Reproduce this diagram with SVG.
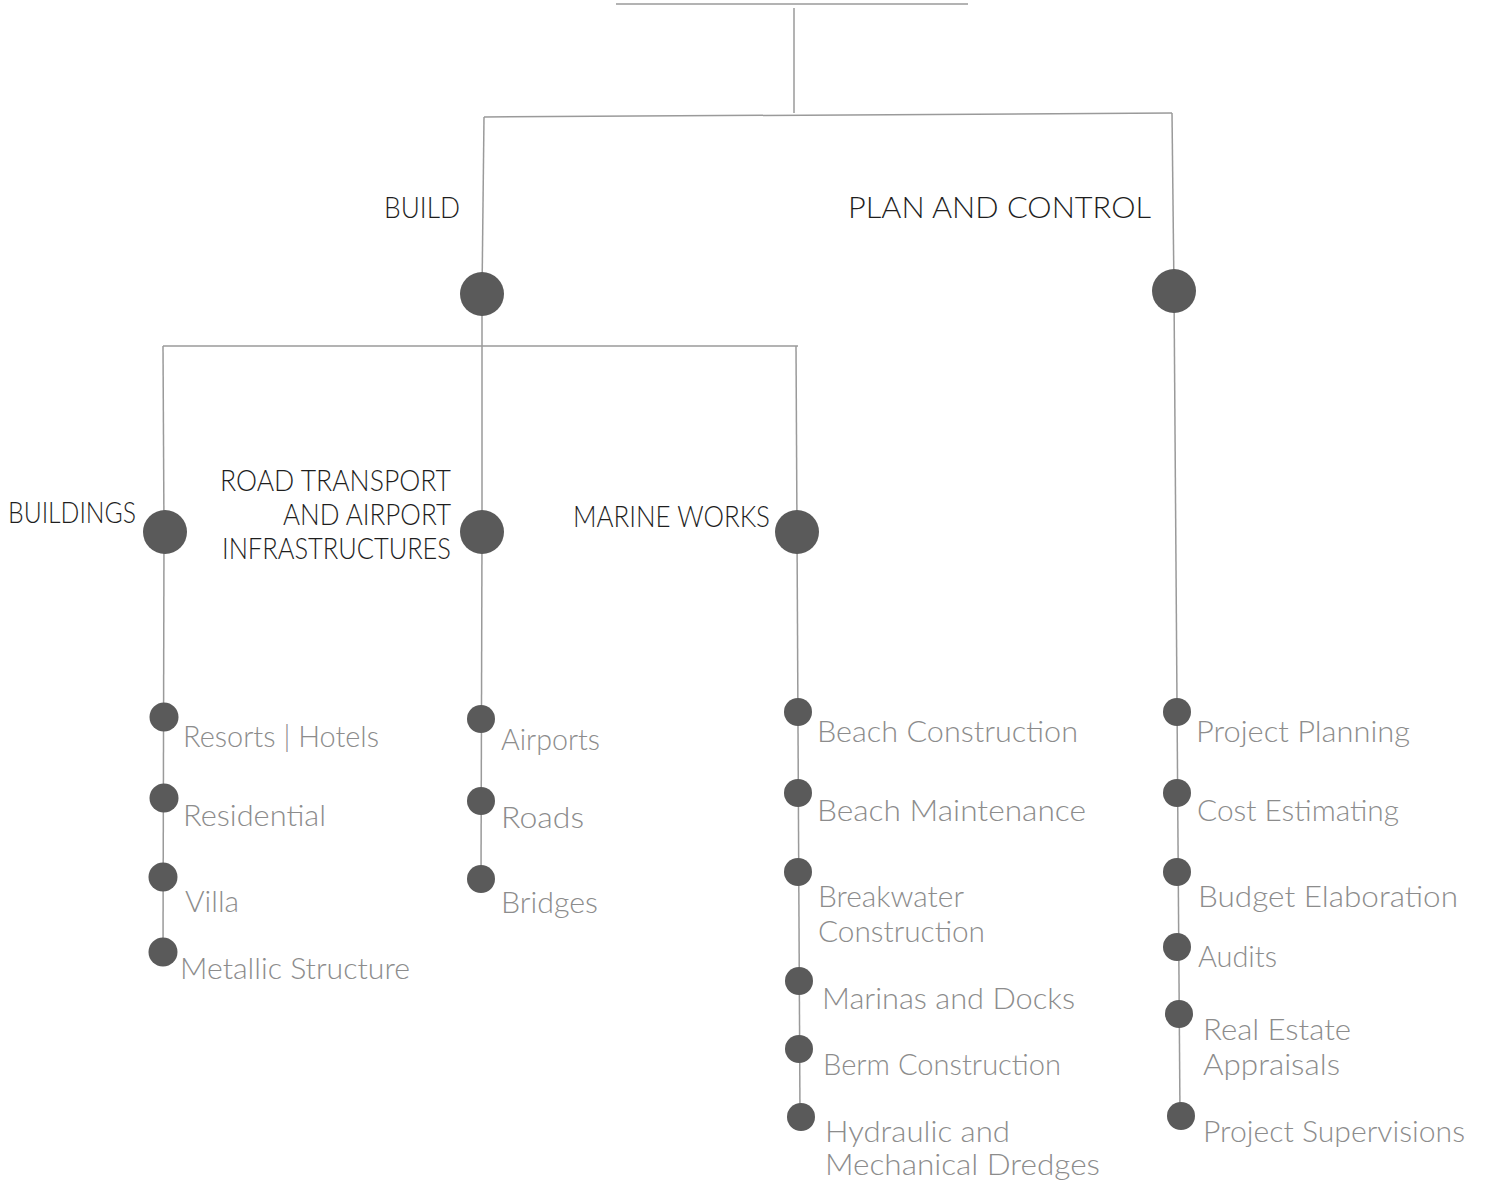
<svg xmlns="http://www.w3.org/2000/svg" width="1487" height="1183" viewBox="0 0 1487 1183">
<style>
.ln{stroke:#9a9a9a;stroke-width:1.5;fill:none}
.big{fill:#5a5a5a}
.dot{fill:#5a5a5a}
.hd{font-family:Lato,"Liberation Sans",sans-serif;font-weight:300;font-size:30px;fill:#1e1e1e}
.lf{font-family:Lato,"Liberation Sans",sans-serif;font-weight:300;font-size:29px;fill:#8c8c8c}
</style>
<rect width="1487" height="1183" fill="#ffffff"/>
<g id="connectors">
<line class="ln" x1="616" y1="4" x2="968" y2="4"/>
<line class="ln" x1="794" y1="8" x2="794" y2="113"/>
<line class="ln" x1="484" y1="117" x2="1172" y2="113"/>
<line class="ln" x1="484" y1="117" x2="482" y2="294"/>
<line class="ln" x1="1172" y1="113" x2="1174" y2="291"/>
<line class="ln" x1="163" y1="346" x2="798" y2="346"/>
<line class="ln" x1="482" y1="294" x2="482" y2="532"/>
<line class="ln" x1="163" y1="346" x2="164" y2="532"/>
<line class="ln" x1="796" y1="346" x2="797" y2="532"/>
<line class="ln" x1="164" y1="532" x2="163" y2="952"/>
<line class="ln" x1="482" y1="532" x2="481" y2="879"/>
<line class="ln" x1="797" y1="532" x2="800" y2="1117"/>
<line class="ln" x1="1174" y1="291" x2="1180" y2="1116"/>
</g>
<g id="n-build"><circle class="big" cx="482" cy="294" r="22"/><text class="hd" x="384" y="218" textLength="76" lengthAdjust="spacingAndGlyphs">BUILD</text></g>
<g id="n-plan"><circle class="big" cx="1174" cy="291" r="22"/><text class="hd" x="848" y="218" textLength="303" lengthAdjust="spacingAndGlyphs">PLAN AND CONTROL</text></g>
<g id="n-buildings"><circle class="big" cx="165" cy="532" r="22"/><text class="hd" x="8" y="523" textLength="128" lengthAdjust="spacingAndGlyphs">BUILDINGS</text></g>
<g id="n-road"><circle class="big" cx="482" cy="532" r="22"/>
<text class="hd" x="220" y="491" textLength="231" lengthAdjust="spacingAndGlyphs">ROAD TRANSPORT</text>
<text class="hd" x="283" y="525" textLength="168" lengthAdjust="spacingAndGlyphs">AND AIRPORT</text>
<text class="hd" x="222" y="559" textLength="229" lengthAdjust="spacingAndGlyphs">INFRASTRUCTURES</text></g>
<g id="n-marine"><circle class="big" cx="797" cy="532" r="22"/><text class="hd" x="573" y="527" textLength="197" lengthAdjust="spacingAndGlyphs">MARINE WORKS</text></g>
<g id="n-resorts"><circle class="dot" cx="164" cy="717" r="14.5"/><text class="lf" x="183" y="747" textLength="196" lengthAdjust="spacingAndGlyphs">Resorts | Hotels</text></g>
<g id="n-residential"><circle class="dot" cx="164" cy="798" r="14.5"/><text class="lf" x="183" y="826" textLength="143" lengthAdjust="spacingAndGlyphs">Residential</text></g>
<g id="n-villa"><circle class="dot" cx="163" cy="877" r="14.5"/><text class="lf" x="185" y="912" textLength="54" lengthAdjust="spacingAndGlyphs">Villa</text></g>
<g id="n-metallic"><circle class="dot" cx="163" cy="952" r="14.5"/><text class="lf" x="180" y="979" textLength="230" lengthAdjust="spacingAndGlyphs">Metallic Structure</text></g>
<g id="n-airports"><circle class="dot" cx="481" cy="719" r="14"/><text class="lf" x="501" y="750" textLength="99" lengthAdjust="spacingAndGlyphs">Airports</text></g>
<g id="n-roads"><circle class="dot" cx="481" cy="801" r="14"/><text class="lf" x="501" y="828" textLength="83" lengthAdjust="spacingAndGlyphs">Roads</text></g>
<g id="n-bridges"><circle class="dot" cx="481" cy="879" r="14"/><text class="lf" x="501" y="913" textLength="97" lengthAdjust="spacingAndGlyphs">Bridges</text></g>
<g id="n-beachc"><circle class="dot" cx="798" cy="712" r="14"/><text class="lf" x="817" y="742" textLength="261" lengthAdjust="spacingAndGlyphs">Beach Construction</text></g>
<g id="n-beachm"><circle class="dot" cx="798" cy="793" r="14"/><text class="lf" x="817" y="821" textLength="269" lengthAdjust="spacingAndGlyphs">Beach Maintenance</text></g>
<g id="n-breakwater"><circle class="dot" cx="798" cy="872" r="14"/>
<text class="lf" x="818" y="907" textLength="146" lengthAdjust="spacingAndGlyphs">Breakwater</text>
<text class="lf" x="818" y="942" textLength="167" lengthAdjust="spacingAndGlyphs">Construction</text></g>
<g id="n-marinas"><circle class="dot" cx="799" cy="981" r="14"/><text class="lf" x="822" y="1009" textLength="253" lengthAdjust="spacingAndGlyphs">Marinas and Docks</text></g>
<g id="n-berm"><circle class="dot" cx="799" cy="1049" r="14"/><text class="lf" x="823" y="1075" textLength="238" lengthAdjust="spacingAndGlyphs">Berm Construction</text></g>
<g id="n-hydraulic"><circle class="dot" cx="801" cy="1117" r="14"/>
<text class="lf" x="825" y="1142" textLength="185" lengthAdjust="spacingAndGlyphs">Hydraulic and</text>
<text class="lf" x="825" y="1175" textLength="275" lengthAdjust="spacingAndGlyphs">Mechanical Dredges</text></g>
<g id="n-planning"><circle class="dot" cx="1177" cy="712" r="14"/><text class="lf" x="1196" y="742" textLength="214" lengthAdjust="spacingAndGlyphs">Project Planning</text></g>
<g id="n-cost"><circle class="dot" cx="1177" cy="793" r="14"/><text class="lf" x="1197" y="821" textLength="202" lengthAdjust="spacingAndGlyphs">Cost Estimating</text></g>
<g id="n-budget"><circle class="dot" cx="1177" cy="872" r="14"/><text class="lf" x="1198" y="907" textLength="260" lengthAdjust="spacingAndGlyphs">Budget Elaboration</text></g>
<g id="n-audits"><circle class="dot" cx="1177" cy="947" r="14"/><text class="lf" x="1198" y="967" textLength="79" lengthAdjust="spacingAndGlyphs">Audits</text></g>
<g id="n-realestate"><circle class="dot" cx="1179" cy="1014" r="14"/>
<text class="lf" x="1203" y="1040" textLength="148" lengthAdjust="spacingAndGlyphs">Real Estate</text>
<text class="lf" x="1203" y="1075" textLength="137" lengthAdjust="spacingAndGlyphs">Appraisals</text></g>
<g id="n-supervisions"><circle class="dot" cx="1181" cy="1116" r="14"/><text class="lf" x="1203" y="1142" textLength="262" lengthAdjust="spacingAndGlyphs">Project Supervisions</text></g>
</svg>
